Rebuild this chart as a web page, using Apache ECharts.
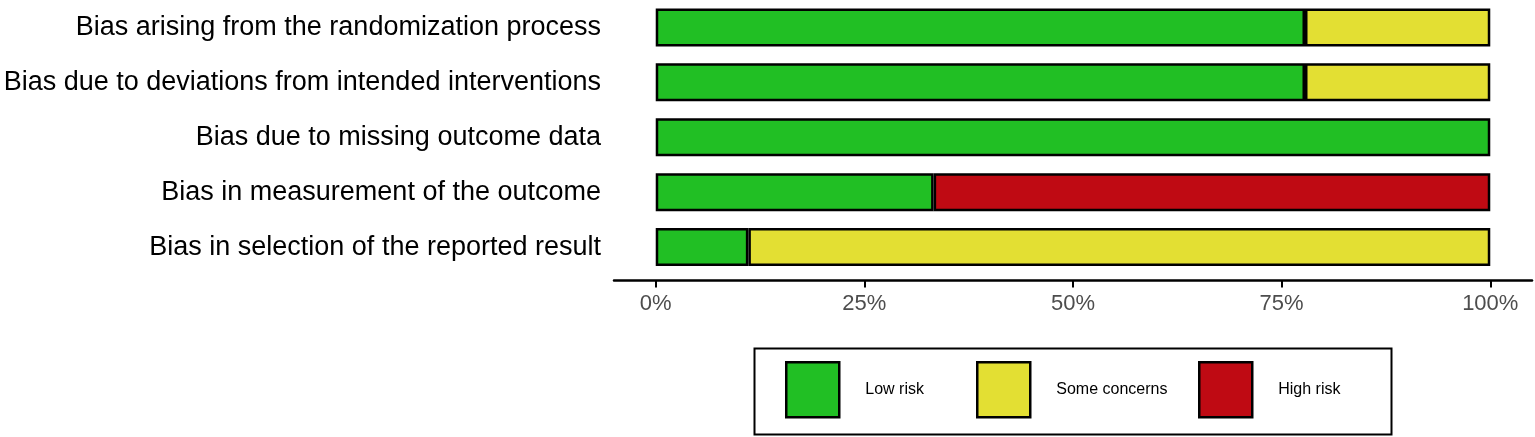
<!DOCTYPE html>
<html>
<head>
<meta charset="utf-8">
<script src="https://cdn.jsdelivr.net/npm/echarts@6/dist/echarts.min.js"></script>
<style>
html,body{margin:0;padding:0;background:#fff;}
#chart{width:1535px;height:437px;}
</style>
</head>
<body>
<div id="chart"></div>
<script>
const categories = [
  'Bias arising from the randomization process',
  'Bias due to deviations from intended interventions',
  'Bias due to missing outcome data',
  'Bias in measurement of the outcome',
  'Bias in selection of the reported result'
];
const lowRisk = [77.8, 77.8, 100, 33.3, 11.1];
const someConcerns = [22.2, 22.2, 0, 0, 88.9];
const highRisk = [0, 0, 0, 66.7, 0];
const tickValues = [0, 25, 50, 75, 100];
const legendNames = ['Low risk', 'Some concerns', 'High risk'];

const colors = { low: '#21BF24', some: '#E3DF33', high: '#BF0A13' };
const font = 'Liberation Sans, Arial, Helvetica, sans-serif';
const legendLefts = [785, 976, 1198];

function clean(arr) { return arr.map(v => v === 0 ? null : v); }

function mkSeries(name, data, color) {
  return {
    name: name,
    type: 'bar',
    stack: 'total',
    barWidth: 38,
    data: clean(data),
    itemStyle: { color: color, borderColor: '#000', borderWidth: 2.5 },
    emphasis: { disabled: true }
  };
}

function mkLegend(name, left) {
  return {
    left: left,
    top: 361,
    orient: 'horizontal',
    icon: 'rect',
    itemWidth: 53,
    itemHeight: 55,
    padding: 0,
    selectedMode: false,
    itemStyle: { borderColor: '#000', borderWidth: 2.5 },
    textStyle: { fontSize: 16, fontFamily: font, color: '#000', padding: [0, 0, 0, 21] },
    data: [name]
  };
}

const chart = echarts.init(document.getElementById('chart'), null, { renderer: 'canvas' });
chart.setOption({
  animation: false,
  backgroundColor: '#fff',
  grid: { left: 614, right: 3, top: 0, height: 274.5, containLabel: false },
  xAxis: {
    type: 'value',
    min: -5,
    max: 105,
    offset: 6,
    splitLine: { show: false },
    axisLine: { show: true, lineStyle: { color: '#000', width: 2.5 } },
    axisTick: { show: true, customValues: tickValues, length: 7, lineStyle: { color: '#000', width: 2 } },
    axisLabel: {
      customValues: tickValues,
      formatter: v => v + '%',
      color: '#4D4D4D',
      fontSize: 22,
      fontFamily: font,
      margin: 12
    }
  },
  yAxis: {
    type: 'category',
    data: categories,
    inverse: true,
    axisLine: { show: false },
    axisTick: { show: false },
    splitLine: { show: false },
    axisLabel: { color: '#000', fontSize: 27, fontFamily: font, margin: 13 }
  },
  legend: legendNames.map((n, i) => mkLegend(n, legendLefts[i])),
  graphic: [{
    type: 'rect',
    left: 752,
    top: 346,
    shape: { x: 0, y: 0, width: 637, height: 86 },
    style: { fill: 'none', stroke: '#000', lineWidth: 2 },
    silent: true
  }],
  series: [
    mkSeries(legendNames[0], lowRisk, colors.low),
    mkSeries(legendNames[1], someConcerns, colors.some),
    mkSeries(legendNames[2], highRisk, colors.high)
  ]
});
</script>
</body>
</html>
